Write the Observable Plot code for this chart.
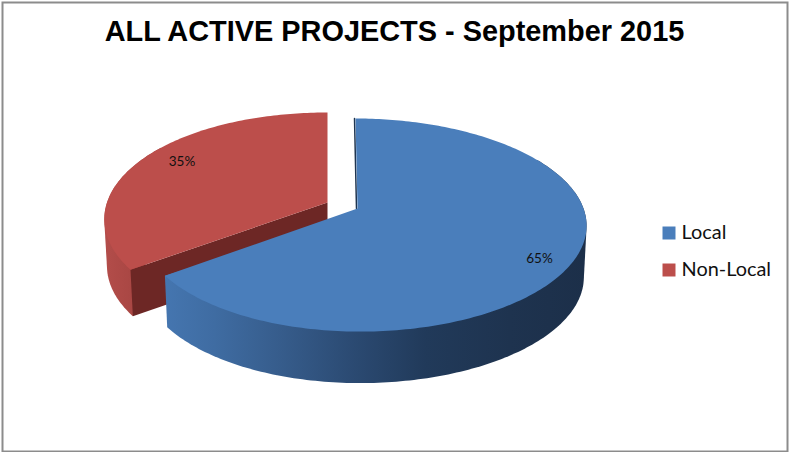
<!DOCTYPE html>
<html>
<head>
<meta charset="utf-8">
<script src="https://cdn.jsdelivr.net/npm/d3@7"></script>
<script src="https://cdn.jsdelivr.net/npm/@observablehq/plot@0.6"></script>
<style>
  html, body { margin: 0; padding: 0; background: #fff; }
  svg { display: block; }
</style>
</head>
<body>
<div id="chart"></div>
<script>
// Share of active projects by category
const categories = ["Local", "Non-Local"];
const shares = [65, 35];
const colors = ["#4a7ebb", "#bc4e4b"];
const chartTitle = "ALL ACTIVE PROJECTS - September 2015";

const width = 789, height = 452;

// Perspective view of the tilted disc: a flat (u, v) circle mapped to the view plane
const view = {a: 221.6, b: 104, k: 0.155, bulge: 4.4, shrink: 0.988, step: 1};
const placement = {
  "Local": {x: 357, y: 208, scale: 1, shear: 2.3, depth: 51.5},
  "Non-Local": {x: 327, y: 202, scale: 1.015, shear: 0, depth: 46.5}
};

function project(p, deg, lower) {
  let dx = 0, dy = 0;
  if (deg !== null) {
    const t = deg * Math.PI / 180;
    const u = Math.sin(t), v = -Math.cos(t), w = 1 - view.k * v;
    dx = p.scale * (view.a * u + view.bulge * u * u + p.shear * v) / w;
    dy = view.b * v / w;
  }
  return lower
    ? {x: p.x + view.shrink * dx, y: p.y + dy + p.depth}
    : {x: p.x + dx, y: p.y + dy};
}

function sweep(from, to) {
  return d3.range(from, to, view.step).concat([to]);
}

// Slice angles come from the shares, running clockwise from twelve o'clock
const total = d3.sum(shares);
let running = 0;
const slices = categories.map((category, i) => {
  const start = running / total * 360;
  running += shares[i];
  return {category, share: shares[i], start, end: running / total * 360, place: placement[category]};
});
const [local, nonLocal] = slices;

const topFace = (s) => [
  project(s.place, null, false),
  ...sweep(s.start, s.end).map((d) => project(s.place, d, false))
].map((p) => ({...p, category: s.category}));

// The rounded wall is the hull of the upper and lower rims, so its silhouette stays tangent to both
const outerWall = (s, from, to) => {
  const rims = sweep(from, to).flatMap((d) => [project(s.place, d, false), project(s.place, d, true)]);
  return d3.polygonHull(rims.map((p) => [p.x, p.y])).map(([x, y]) => ({x, y}));
};

const cutFace = (s, deg) => [
  project(s.place, null, false),
  project(s.place, deg, false),
  project(s.place, deg, true),
  project(s.place, null, true)
];

const innerEdge = [project(local.place, local.start, false), project(local.place, null, false)]
  .map((p) => ({x: p.x - 1, y: p.y}));

// Horizontal shading for the rounded side walls
function gradients() {
  const g = d3.create("svg:g");
  const defs = g.append("defs");
  const add = (id, x1, x2, stops) => {
    const lg = defs.append("linearGradient")
      .attr("id", id).attr("gradientUnits", "userSpaceOnUse")
      .attr("x1", x1).attr("x2", x2).attr("y1", 0).attr("y2", 0);
    stops.forEach(([o, c]) => lg.append("stop").attr("offset", o).attr("stop-color", c));
  };
  add("wallBlue", 163, 586, [
    [0, "#4576b0"], [0.12, "#3f6ca2"], [0.28, "#365c8b"], [0.45, "#2b4a72"],
    [0.62, "#213a5a"], [0.82, "#1e334f"], [1, "#1c2f49"]
  ]);
  add("wallRed", 104, 165, [[0, "#b34d4a"], [0.5, "#a84643"], [1, "#963c39"]]);
  return g.node();
}

const labels = [
  {text: `${local.share}%`, x: 539, y: 258},
  {text: `${nonLocal.share}%`, x: 181.5, y: 161}
];
const legendRows = [
  {category: "Local", x: 668.5, y: 232.5, tx: 681, ty: 232},
  {category: "Non-Local", x: 668.5, y: 269.5, tx: 681, ty: 269}
];

const plot = Plot.plot({
  width, height,
  margin: 0,
  style: {background: "#fff", overflow: "visible"},
  x: {domain: [0, width], range: [0, width], axis: null},
  y: {domain: [0, height], range: [0, height], axis: null},
  color: {domain: categories, range: colors},
  marks: [
    gradients,
    // exploded slice: walls first, then its top face
    Plot.line(outerWall(nonLocal, nonLocal.start, 305), {x: "x", y: "y", fill: "url(#wallRed)", stroke: "none"}),
    Plot.line(cutFace(nonLocal, nonLocal.start), {x: "x", y: "y", fill: "#6d2725", stroke: "none"}),
    Plot.line(topFace(nonLocal), {x: "x", y: "y", fill: "category", stroke: "none"}),
    // main slice
    Plot.line(outerWall(local, 60, local.end), {x: "x", y: "y", fill: "url(#wallBlue)", stroke: "none"}),
    Plot.line(innerEdge, {x: "x", y: "y", stroke: "#1f3550", strokeWidth: 1.5}),
    Plot.line(topFace(local), {x: "x", y: "y", fill: "category", stroke: "none"}),
    // value labels
    Plot.text(labels, {
      x: "x", y: "y", text: "text", fill: "#111",
      fontFamily: "Lato", fontSize: 13.5, textAnchor: "middle"
    }),
    // legend
    Plot.dot(legendRows, {x: "x", y: "y", fill: "category", symbol: "square", r: 7.33, stroke: "none"}),
    Plot.text(legendRows, {
      x: "tx", y: "ty", text: "category", fill: "#111",
      fontFamily: "Lato", fontSize: 19.9, textAnchor: "start"
    }),
    // title
    Plot.text([chartTitle], {
      x: () => 394, y: () => 31.5, text: (d) => d, fill: "#000",
      fontFamily: "Liberation Sans", fontWeight: "bold", fontSize: 28.9, textAnchor: "middle"
    }),
    Plot.frame({stroke: "#8c8c8c", strokeWidth: 2, insetLeft: 2, insetTop: 2, insetRight: 2, insetBottom: 1})
  ]
});
document.getElementById("chart").appendChild(plot);
</script>
</body>
</html>
